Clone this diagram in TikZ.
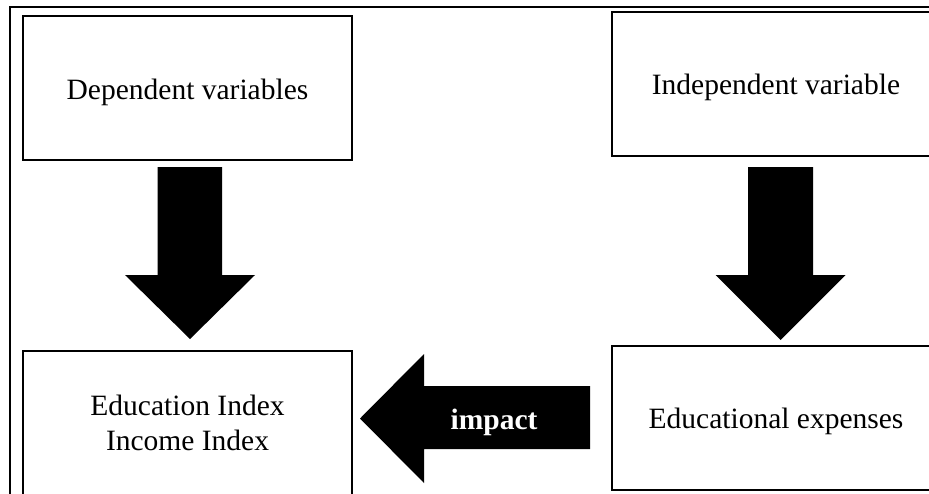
\documentclass[tikz,border=0pt]{standalone}
\usepackage{fontspec}
\setmainfont{Liberation Serif}
\begin{document}
\begin{tikzpicture}[x=1pt,y=-1pt,
  box/.style={draw=black,line width=2pt,fill=white,inner sep=0pt,minimum width=329pt,minimum height=144pt},
  txt/.style={inner sep=0pt,anchor=base,font=\fontsize{29.5}{34.5}\selectfont},
  bigarrow/.style={fill=black,draw=none},
  frame/.style={draw=black,line width=1.3pt}]
\clip (0,0) rectangle (929,493);
\useasboundingbox (0,0) rectangle (929,493);
\fill[white] (0,0) rectangle (929,493);
\draw[frame] (10,7) rectangle (960,530);
\node[box] (dep) at (187.5,88) {};
\node[box] (ind) at (776,84) {};
\node[box,minimum height=148pt] (edu) at (187.5,425) {};
\node[box] (exp) at (776,418) {};
\node[txt] (deptxt) at (187.5,99) {Dependent variables};
\node[txt] (indtxt) at (776,94) {Independent variable};
\node[txt] (edutxt1) at (187.5,415) {Education Index};
\node[txt] (edutxt2) at (187.5,450) {Income Index};
\node[txt] (exptxt) at (776,428) {Educational expenses};
\fill[bigarrow] (157.5,167) -- (222,167) -- (222,275) -- (255,275) -- (190,339) -- (125,275) -- (157.5,275) -- cycle;
\fill[bigarrow] (748,167) -- (813,167) -- (813,275) -- (845.5,275) -- (780.5,340) -- (715.5,275) -- (748,275) -- cycle;
\fill[bigarrow] (590,386) -- (424,386) -- (424,354) -- (360,418.5) -- (424,483) -- (424,449) -- (590,449) -- cycle;
\node[txt,text=white,font=\fontsize{29.5}{34.5}\selectfont\bfseries] (imp) at (494,429) {impact};
\end{tikzpicture}
\end{document}
